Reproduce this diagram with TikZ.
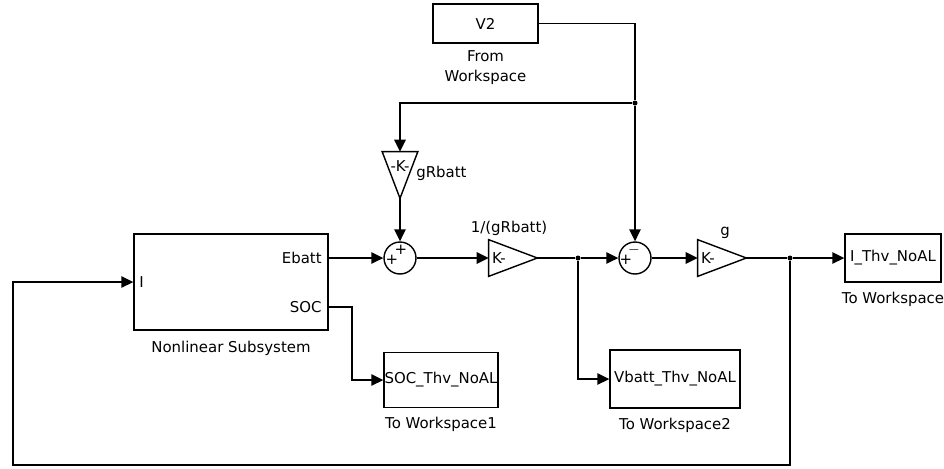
\documentclass[tikz,border=0pt]{standalone}
\usepackage{fontspec}
\setmainfont{DejaVu Sans}
\usetikzlibrary{shapes.geometric, arrows.meta, positioning, calc}

\begin{document}
\begin{tikzpicture}[
    x=0.02cm, y=-0.02cm,
    font=\fontsize{8.5}{11.4}\selectfont,
    block/.style={draw, line width=0.8pt, inner sep=0pt},
    sumblk/.style={draw, circle, line width=0.8pt, minimum size=0.64cm, inner sep=0pt},
    gain/.style={inner sep=0pt},
    sgn/.style={inner sep=0pt, font=\fontsize{8.5}{9}\selectfont},
    lbl/.style={align=center, inner sep=0pt},
    dot/.style={circle, fill, inner sep=0pt, minimum size=0.1cm},
    sig/.style={-{Triangle[length=2.4mm,width=2.3mm]}, line width=0.8pt},
    wire/.style={line width=0.8pt},
]
    \useasboundingbox (0,0) rectangle (944,468);

    % source
    \node[block, minimum width=2.1cm, minimum height=0.78cm] (v2) at (485.5,23.5) {V2};
    \node[lbl, below=0.14cm of v2] (v2lbl) {From\\Workspace};

    % subsystem
    \node[block, minimum width=3.88cm, minimum height=1.92cm] (nl) at (231,282) {};
    \node[anchor=east, inner sep=0pt] (ebatt) at (322,258) {Ebatt};
    \node[anchor=east, inner sep=0pt] (soc) at (322,307) {SOC};
    \node[anchor=west, inner sep=0pt] (iport) at (139,282) {I};
    \node[lbl, below=0.2cm of nl] (nllbl) {Nonlinear Subsystem};
    \coordinate (nlE) at (nl.east |- ebatt);
    \coordinate (nlS) at (nl.east |- soc);
    \coordinate (nlI) at (nl.west |- iport);

    % gains and sums
    \node[gain, minimum width=0.7cm, minimum height=0.92cm] (gR) at (400,175) {};
    \draw[wire] (gR.north west) -- (gR.north east) -- (gR.south) -- cycle;
    \node[inner sep=0pt] (gRk) at (400,166) {-K-};
    \node[anchor=west, inner sep=0pt] (gRlbl) at (416,173) {gRbatt};

    \node[sumblk] (sum1) at (400,258) {};
    \node[sgn] (s1a) at (401,250) {+};
    \node[sgn] (s1b) at (392,260) {+};

    \node[gain, minimum width=0.96cm, minimum height=0.72cm] (g1) at (513,258) {};
    \draw[wire] (g1.north west) -- (g1.east) -- (g1.south west) -- cycle;
    \node[inner sep=0pt] (g1k) at (499,258) {K-};
    \node[inner sep=0pt] (g1lbl) at (509,228) {1/(gRbatt)};

    \node[sumblk] (sum2) at (635,258) {};
    \node[sgn] (s2a) at (634,250) {$-$};
    \node[sgn] (s2b) at (626,260) {+};

    \node[gain, minimum width=0.96cm, minimum height=0.72cm] (g2) at (722,258) {};
    \draw[wire] (g2.north west) -- (g2.east) -- (g2.south west) -- cycle;
    \node[inner sep=0pt] (g2k) at (708,258) {K-};
    \node[inner sep=0pt] (g2lbl) at (725,233) {g};

    % sinks
    \node[block, minimum width=1.92cm, minimum height=0.96cm] (tw0) at (893,258) {I\_Thv\_NoAL};
    \node[lbl, below=0.18cm of tw0] (tw0lbl) {To Workspace};
    \node[block, minimum width=2.28cm, minimum height=1.1cm] (tw1) at (441,380) {SOC\_Thv\_NoAL};
    \node[lbl, below=0.18cm of tw1] (tw1lbl) {To Workspace1};
    \node[block, minimum width=2.6cm, minimum height=1.16cm] (tw2) at (675,379) {Vbatt\_Thv\_NoAL};
    \node[lbl, below=0.18cm of tw2] (tw2lbl) {To Workspace2};

    % branch points
    \node[dot] (j1) at (635,103) {};
    \node[dot] (j2) at (578,258) {};
    \node[dot] (j3) at (790,258) {};
    \coordinate (socbend) at (352,307);
    \coordinate (fbR) at (790,465);
    \coordinate (fbL) at (13,465);

    % signals
    \draw[wire] (v2.east) -| (j1);
    \draw[sig] (j1) -- (sum2.north);
    \draw[sig] (j1) -| (gR.north);
    \draw[sig] (gR.south) -- (sum1.north);
    \draw[sig] (nlE) -- (sum1.west);
    \draw[sig] (sum1.east) -- (g1.west);
    \draw[wire] (g1.east) -- (j2);
    \draw[sig] (j2) -- (sum2.west);
    \draw[sig] (j2) |- (tw2.west);
    \draw[sig] (sum2.east) -- (g2.west);
    \draw[wire] (g2.east) -- (j3);
    \draw[sig] (j3) -- (tw0.west);
    \draw[sig] (nlS) -- (socbend) |- (tw1.west);
    \draw[sig] (j3) -- (fbR) -- (fbL) |- (nlI);
\end{tikzpicture}
\end{document}
